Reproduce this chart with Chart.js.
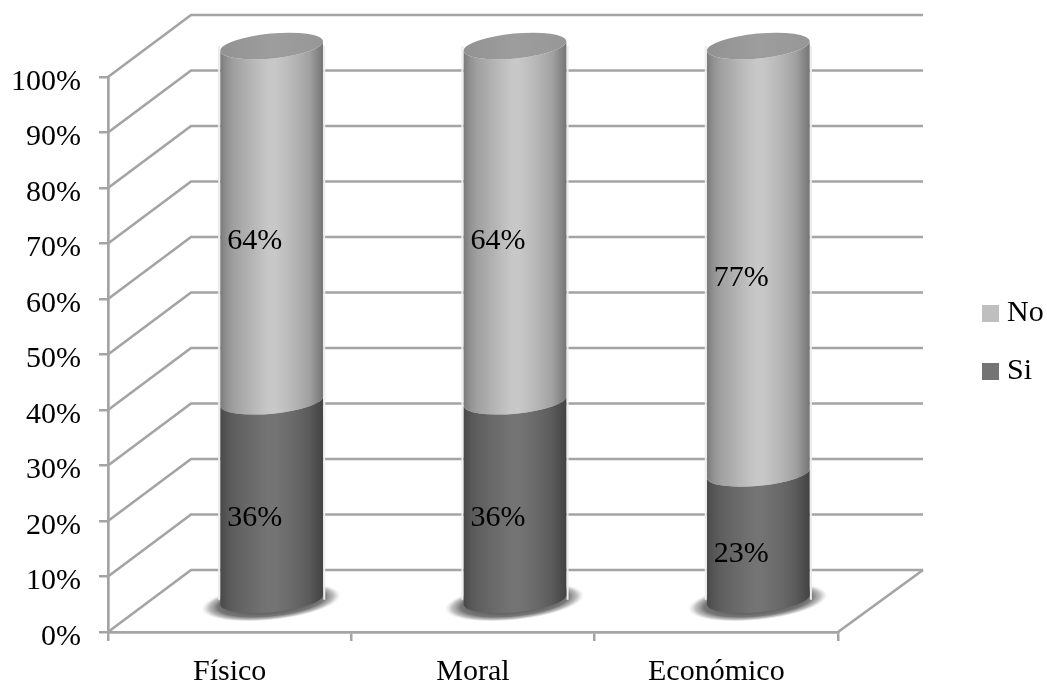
<!DOCTYPE html>
<html lang="es">
<head>
<meta charset="utf-8">
<title>Físico, Moral, Económico</title>
<script src="https://cdn.jsdelivr.net/npm/chart.js@4"></script>
<style>
    html, body { margin: 0; background: #fff; }
    #wrap { position: relative; width: 1047px; height: 683px; }
</style>
</head>
<body>
<div id="wrap"><canvas id="cylinderChart"></canvas></div>
<script>
const categories = ["Físico", "Moral", "Económico"];
const siValues = [36, 36, 23];
const noValues = [64, 64, 77];
const yTicks = [0, 10, 20, 30, 40, 50, 60, 70, 80, 90, 100];

const SERIF = '"Liberation Serif", serif';
const LINE = "#a4a4a4";

// depth of the box the chart stands in, and where the cylinders sit inside it
const WALL_DX = 83, WALL_DY = -62;
const BAR_DX = 42, BAR_DY = -31;
const TILT = -0.095, RY = 12.5;

// grey shading across a cylinder, left to right
const noBands = ["#7a7a7a", "#929292", "#a0a0a0", "#a8a8a8", "#b0b0b0", "#b8b8b8", "#c0c0c0", "#c7c7c7", "#c8c8c8", "#c2c2c2", "#bbbbbb", "#b3b3b3", "#aaaaaa", "#a0a0a0", "#8a8a8a", "#747474"];
const siBands = ["#484848", "#565656", "#5e5e5e", "#636363", "#686868", "#6c6c6c", "#707070", "#747474", "#747474", "#707070", "#6c6c6c", "#676767", "#616161", "#5a5a5a", "#4e4e4e", "#424242"];

function bandFill(ctx, left, width, bands) {
    const g = ctx.createLinearGradient(left, 0, left + width, 0);
    bands.forEach((c, i) => g.addColorStop(i / (bands.length - 1), c));
    return g;
}

const cylinderPlugin = {
    id: "cylinders",
    afterLayout(chart) {
        // the legend floats right of the box instead of taking layout room
        const legend = chart.legend;
        legend.left = 961;
        legend.right = 1047;
        legend.top = 270.5;
        legend.bottom = 460;
        legend.width = 86;
        legend.height = 189.5;
    },
    beforeDatasetsDraw(chart) {
        const ctx = chart.ctx;
        const yScale = chart.scales.y;
        const { left, right } = chart.chartArea;
        const bottom = yScale.getPixelForValue(0);

        ctx.save();
        ctx.strokeStyle = LINE;
        ctx.lineWidth = 2.7;
        yTicks.forEach(v => {
            const y = yScale.getPixelForValue(v);
            ctx.beginPath();
            ctx.moveTo(left, y);
            ctx.lineTo(left + WALL_DX, y + WALL_DY);
            ctx.lineTo(right + WALL_DX + 2, y + WALL_DY);
            ctx.stroke();
        });
        // floor edge on the right
        ctx.beginPath();
        ctx.moveTo(right + WALL_DX + 2, bottom + WALL_DY);
        ctx.lineTo(right, bottom);
        ctx.stroke();

        // soft shadows under the cylinders
        chart.getDatasetMeta(0).data.forEach(bar => {
            const cx = bar.x + BAR_DX - 0.5;
            const cy = bottom + BAR_DY + 1;
            ctx.save();
            ctx.translate(cx, cy);
            ctx.rotate(-0.105);
            ctx.scale(1, 0.26);
            const g = ctx.createRadialGradient(0, 0, 30, 0, 0, 70);
            g.addColorStop(0, "rgba(80,80,80,1)");
            g.addColorStop(0.6, "rgba(105,105,105,0.9)");
            g.addColorStop(0.82, "rgba(140,140,140,0.55)");
            g.addColorStop(1, "rgba(200,200,200,0)");
            ctx.fillStyle = g;
            ctx.beginPath();
            ctx.arc(0, 0, 70, 0, Math.PI * 2);
            ctx.fill();
            ctx.restore();
        });
        ctx.restore();
    },
    beforeDatasetDraw(chart, args) {
        const ctx = chart.ctx;
        const bands = args.index === 0 ? siBands : noBands;
        const isTop = args.index === chart.data.datasets.length - 1;

        args.meta.data.forEach(bar => {
            const cx = bar.x + BAR_DX;
            const rx = bar.width / 2;
            const yLow = bar.base + BAR_DY;
            const yHigh = bar.y + BAR_DY;

            ctx.save();
            // pale rim where the grid lines meet the sides
            ctx.strokeStyle = "#ececec";
            ctx.lineWidth = 2;
            ctx.beginPath();
            ctx.moveTo(cx - rx - 1, yHigh);
            ctx.lineTo(cx - rx - 1, yLow);
            ctx.moveTo(cx + rx + 1, yHigh);
            ctx.lineTo(cx + rx + 1, yLow);
            ctx.stroke();

            ctx.fillStyle = bandFill(ctx, cx - rx, rx * 2, bands);
            ctx.beginPath();
            ctx.ellipse(cx, yLow, rx, RY, TILT, 0, Math.PI);
            ctx.ellipse(cx, yHigh, rx, RY, TILT, Math.PI, 0, true);
            ctx.closePath();
            ctx.fill();

            if (isTop) {
                const cap = ctx.createLinearGradient(cx - rx, 0, cx + rx, 0);
                cap.addColorStop(0, "#929292");
                cap.addColorStop(0.5, "#9d9d9d");
                cap.addColorStop(1, "#979797");
                ctx.fillStyle = cap;
                ctx.beginPath();
                ctx.ellipse(cx, yHigh, rx, RY, TILT, 0, Math.PI * 2);
                ctx.fill();
            }
            ctx.restore();
        });
        return false;
    },
    afterDatasetsDraw(chart) {
        // value labels, set on the front plane of each segment
        const ctx = chart.ctx;
        ctx.save();
        ctx.font = "30px " + SERIF;
        ctx.fillStyle = "#000";
        ctx.textAlign = "center";
        ctx.textBaseline = "middle";
        chart.data.datasets.forEach((ds, i) => {
            chart.getDatasetMeta(i).data.forEach((bar, j) => {
                ctx.fillText(ds.data[j] + "%", bar.x + 25, (bar.y + bar.base) / 2 - 13);
            });
        });
        ctx.restore();
    }
};

const ctx = document.getElementById("cylinderChart").getContext("2d");

new Chart(ctx, {
    type: "bar",
    data: {
        labels: categories,
        datasets: [
            { label: "Si", data: siValues, backgroundColor: "#747474", borderColor: "#747474", borderWidth: 14 },
            { label: "No", data: noValues, backgroundColor: "#bfbfbf", borderColor: "#bfbfbf", borderWidth: 14 }
        ]
    },
    options: {
        responsive: true,
        maintainAspectRatio: false,
        animation: false,
        layout: { padding: { top: 77, right: 209, bottom: 0, left: 0 } },
        barPercentage: 0.424,
        categoryPercentage: 1,
        plugins: {
            tooltip: { enabled: false },
            legend: {
                position: "chartArea",
                align: "start",
                reverse: true,
                labels: {
                    boxWidth: 3,
                    boxHeight: 3,
                    padding: 28,
                    color: "#000",
                    font: { family: SERIF, size: 30 }
                }
            }
        },
        scales: {
            x: {
                stacked: true,
                afterFit(scale) { scale.height = 51; },
                grid: {
                    drawOnChartArea: false,
                    color: LINE,
                    lineWidth: 2.5,
                    tickLength: 9,
                    tickColor: LINE
                },
                border: { color: LINE, width: 2.7 },
                ticks: {
                    padding: 13,
                    maxRotation: 0,
                    color: "#000",
                    font: { family: SERIF, size: 30 }
                }
            },
            y: {
                stacked: true,
                min: 0,
                max: 100,
                afterFit(scale) { scale.width = 108; },
                grid: {
                    drawOnChartArea: false,
                    color: LINE,
                    lineWidth: 2.5,
                    tickLength: 9,
                    tickColor: LINE
                },
                border: { color: LINE, width: 2.7 },
                ticks: {
                    stepSize: 10,
                    padding: 18,
                    labelOffset: 5,
                    color: "#000",
                    font: { family: SERIF, size: 30 },
                    callback: value => value + "%"
                }
            }
        }
    },
    plugins: [cylinderPlugin]
});
</script>
</body>
</html>
